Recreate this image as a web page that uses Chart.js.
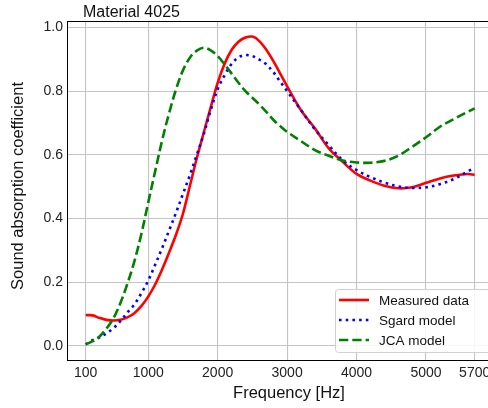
<!DOCTYPE html>
<html lang="en">
<head>
  <meta charset="UTF-8" />
  <title>Material 4025 - Sound absorption</title>
  <script src="https://cdn.jsdelivr.net/npm/chart.js"></script>
  <style>
    html, body {
      margin: 0;
      padding: 0;
      background: #fff;
      overflow: hidden;
    }
    #wrap {
      width: 488px;
      height: 408px;
      position: relative;
    }
  </style>
</head>
<body>
<div id="wrap"><canvas id="chart"></canvas></div>

<script>
// frequency grid (Hz)
const freqs = [100, 200, 300, 400, 500, 600, 700, 800, 900, 1000,
  1100, 1200, 1300, 1400, 1500, 1600, 1700, 1800, 1900, 2000,
  2100, 2200, 2300, 2400, 2500, 2600, 2700, 2800, 2900, 3000,
  3200, 3400, 3600, 3800, 4000, 4200, 4400, 4600, 4800, 5000,
  5200, 5400, 5600, 5700];

const measured = [0.097, 0.096, 0.088, 0.082, 0.080, 0.082, 0.090, 0.103, 0.125, 0.155,
  0.193, 0.240, 0.293, 0.349, 0.415, 0.502, 0.590, 0.670, 0.749, 0.826,
  0.886, 0.929, 0.955, 0.968, 0.971, 0.957, 0.930, 0.895, 0.855, 0.815,
  0.740, 0.683, 0.620, 0.578, 0.540, 0.519, 0.503, 0.495, 0.498, 0.512,
  0.526, 0.535, 0.540, 0.537];

const sgard = [0.005, 0.018, 0.027, 0.040, 0.056, 0.078, 0.105, 0.130, 0.165, 0.205,
  0.255, 0.307, 0.362, 0.418, 0.477, 0.536, 0.600, 0.665, 0.740, 0.806,
  0.850, 0.885, 0.906, 0.913, 0.910, 0.899, 0.884, 0.860, 0.830, 0.800,
  0.740, 0.680, 0.630, 0.583, 0.552, 0.530, 0.513, 0.501, 0.496, 0.498,
  0.508, 0.524, 0.548, 0.560];

const jca = [0.005, 0.015, 0.030, 0.055, 0.087, 0.135, 0.195, 0.265, 0.350, 0.450,
  0.548, 0.645, 0.730, 0.805, 0.865, 0.905, 0.927, 0.936, 0.928, 0.910,
  0.884, 0.855, 0.826, 0.800, 0.779, 0.758, 0.735, 0.710, 0.690, 0.672,
  0.643, 0.615, 0.597, 0.582, 0.576, 0.575, 0.581, 0.597, 0.625, 0.655,
  0.688, 0.712, 0.735, 0.746];

const xTicks = [100, 1000, 2000, 3000, 4000, 5000, 5700];
const yTicks = [0, 0.2, 0.4, 0.6, 0.8, 1.0];

const FONT = "'Liberation Sans', Arial, sans-serif";

function pts(vals) {
  return freqs.map((f, i) => ({ x: f, y: vals[i] }));
}

// title, axis labels, top spine and legend
const decorations = {
  id: 'decorations',
  afterDraw(chart) {
    const ctx = chart.ctx;
    const a = chart.chartArea;
    ctx.save();

    // top spine
    ctx.strokeStyle = '#000';
    ctx.lineWidth = 1;
    ctx.beginPath();
    ctx.moveTo(a.left, a.top + 0.5);
    ctx.lineTo(a.right, a.top + 0.5);
    ctx.stroke();

    ctx.fillStyle = '#111';
    ctx.font = '16px ' + FONT;
    ctx.textAlign = 'left';
    ctx.textBaseline = 'alphabetic';
    ctx.fillText('Material 4025', 83, 17);

    ctx.textAlign = 'center';
    ctx.textBaseline = 'middle';
    ctx.font = '16.5px ' + FONT;
    ctx.fillText('Frequency [Hz]', 289, 393);

    ctx.save();
    ctx.translate(18, 186);
    ctx.rotate(-Math.PI / 2);
    ctx.fillText('Sound absorption coefficient', 0, 0);
    ctx.restore();

    // legend
    const bx = 335.5, by = 289.5, bw = 160, bh = 63;
    ctx.fillStyle = 'rgba(255,255,255,0.85)';
    ctx.strokeStyle = '#d0d0d0';
    ctx.lineWidth = 1;
    ctx.beginPath();
    ctx.roundRect(bx, by, bw, bh, 3);
    ctx.fill();
    ctx.stroke();

    ctx.font = '13.5px ' + FONT;
    ctx.textAlign = 'left';
    ctx.textBaseline = 'middle';
    chart.data.datasets.forEach((ds, i) => {
      const y = 300 + i * 20;
      ctx.strokeStyle = ds.borderColor;
      ctx.lineWidth = ds.borderWidth;
      ctx.lineCap = 'butt';
      ctx.setLineDash(ds.borderDash || []);
      ctx.beginPath();
      ctx.moveTo(339, y);
      ctx.lineTo(369, y);
      ctx.stroke();
      ctx.setLineDash([]);
      ctx.fillStyle = '#111';
      ctx.fillText(ds.label, 379, y + 1);
    });

    ctx.restore();
  }
};

new Chart(document.getElementById('chart'), {
  type: 'line',
  data: {
    datasets: [
      {
        label: 'Measured data',
        data: pts(measured),
        borderColor: '#ff0000',
        borderWidth: 2.6,
        order: 3
      },
      {
        label: 'Sgard model',
        data: pts(sgard),
        borderColor: '#0000ff',
        borderWidth: 2.6,
        borderDash: [2.6, 4.1],
        order: 2
      },
      {
        label: 'JCA model',
        data: pts(jca),
        borderColor: '#008000',
        borderWidth: 2.6,
        borderDash: [9.3, 4],
        order: 1
      }
    ]
  },
  options: {
    responsive: true,
    maintainAspectRatio: false,
    animation: false,
    layout: { padding: { top: 21, left: 0, right: 0, bottom: 0 } },
    elements: {
      point: { radius: 0 },
      line: { tension: 0.35, fill: false, borderCapStyle: 'butt', borderJoinStyle: 'round' }
    },
    plugins: {
      legend: { display: false },
      title: { display: false },
      tooltip: { enabled: false }
    },
    scales: {
      x: {
        type: 'linear',
        min: -169,
        max: 5892,
        afterBuildTicks: s => { s.ticks = xTicks.map(v => ({ value: v })); },
        afterFit: s => { s.height = 48; s.paddingLeft = 0; s.paddingRight = 0; },
        grid: { color: '#c4c4c4', lineWidth: 1.1, drawTicks: false },
        border: { color: '#000', width: 1 },
        ticks: {
          padding: 5,
          maxRotation: 0,
          autoSkip: false,
          color: '#222',
          font: { family: FONT, size: 14 },
          callback: v => String(v)
        }
      },
      y: {
        min: -0.044,
        max: 1.02,
        afterBuildTicks: s => { s.ticks = yTicks.map(v => ({ value: v })); },
        afterFit: s => { s.width = 67; s.paddingTop = 0; s.paddingBottom = 0; },
        grid: { color: '#c4c4c4', lineWidth: 1.1, drawTicks: false },
        border: { color: '#000', width: 1 },
        ticks: {
          padding: 4,
          autoSkip: false,
          color: '#222',
          font: { family: FONT, size: 14 },
          callback: v => v.toFixed(1)
        }
      }
    }
  },
  plugins: [decorations]
});
</script>
</body>
</html>
